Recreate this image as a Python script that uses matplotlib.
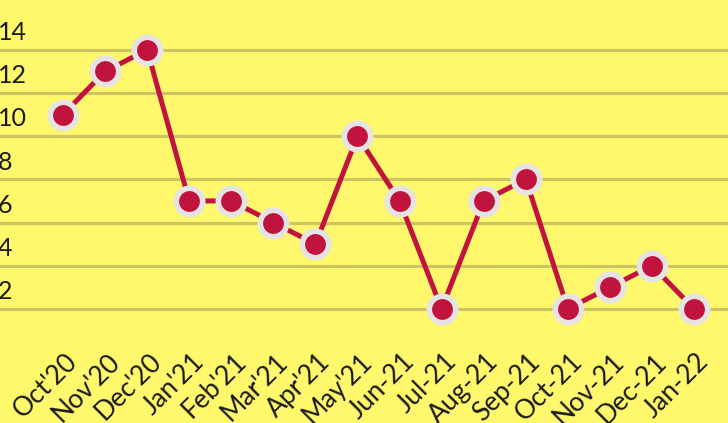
import matplotlib
matplotlib.use("Agg")
import matplotlib.pyplot as plt
import matplotlib.transforms as mtransforms

months = ["Oct'20", "Nov'20", "Dec'20", "Jan'21", "Feb'21", "Mar'21", "Apr'21",
          "May'21", "Jun-21", "Jul-21", "Aug-21", "Sep-21", "Oct-21", "Nov-21",
          "Dec-21", "Jan-22"]
counts = [11, 13, 14, 7, 7, 6, 5, 10, 7, 2, 7, 8, 2, 3, 4, 2]
grid_values = [2, 4, 6, 8, 10, 12, 14]

BG = '#FFF76C'
GRID = '#CCC462'
LINE = '#C0143F'
RING = '#E6E4E2'

plt.rcParams['font.family'] = ['Lato', 'DejaVu Sans']

fig = plt.figure(figsize=(7.28, 4.23), dpi=100, facecolor=BG)
ax = fig.add_axes([0, 71 / 423, 1, 352 / 423])
ax.set_facecolor(BG)

x = list(range(len(months)))
ax.set_xlim(-1.4975, 15.807)
ax.set_ylim(0, 16.31)

# labels sit on top of the gridlines, flush with the left edge
for v in grid_values:
    ax.axhline(v, color=GRID, lw=2.2, zorder=1)
    ax.annotate(str(v), xy=(0, v), xycoords=ax.get_yaxis_transform(),
                xytext=(-1.5, 7), textcoords='offset points',
                ha='left', va='baseline', fontsize=18, color='#1a1a1a')

ax.plot(x, counts, color=LINE, lw=3.6, zorder=2, marker='o', markersize=19,
        markerfacecolor=LINE, markeredgecolor=RING, markeredgewidth=4,
        solid_capstyle='round')

for s in ax.spines.values():
    s.set_visible(False)
ax.set_yticks([])
ax.set_xticks(x)
ax.set_xticklabels(months, rotation=45, ha='right', va='top',
                   rotation_mode='anchor', fontsize=19, color='#1a1a1a')
ax.tick_params(axis='x', length=0, pad=0)
shift = mtransforms.ScaledTranslation(2 / 100, 3 / 100, fig.dpi_scale_trans)
for lab in ax.get_xticklabels():
    lab.set_transform(lab.get_transform() + shift)

fig.savefig('out.png', dpi=100, facecolor=BG)
